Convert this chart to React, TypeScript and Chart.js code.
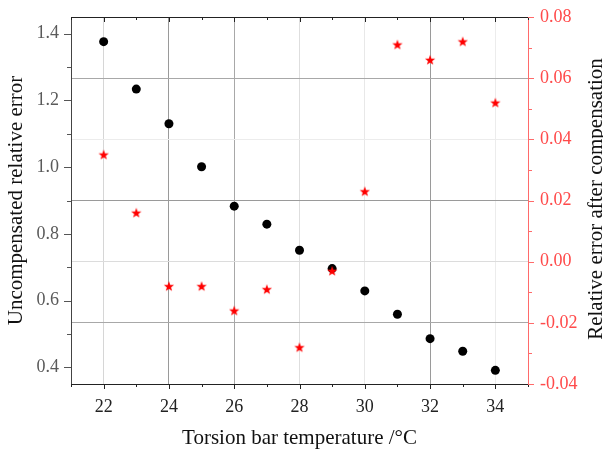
import React, { useEffect, useRef } from 'react';
import { Chart, registerables } from 'chart.js';

Chart.register(...registerables);

const temperatures = [22, 23, 24, 25, 26, 27, 28, 29, 30, 31, 32, 33, 34];
const uncompensatedError = [1.376, 1.234, 1.13, 1.001, 0.883, 0.829, 0.751, 0.696, 0.629, 0.559, 0.486, 0.448, 0.391];
const compensatedError = [0.035, 0.016, -0.008, -0.008, -0.016, -0.009, -0.028, -0.003, 0.023, 0.071, 0.066, 0.072, 0.052];

const xMajorTicks = [22, 24, 26, 28, 30, 32, 34];
const xMinorTicks = [21, 23, 25, 27, 29, 31, 33, 35];
const leftMajorTicks = [0.4, 0.6, 0.8, 1.0, 1.2, 1.4];
const leftMinorTicks = [0.5, 0.7, 0.9, 1.1, 1.3];
const rightMajorTicks = [-0.04, -0.02, 0.0, 0.02, 0.04, 0.06, 0.08];
const rightMinorTicks = [-0.03, -0.01, 0.01, 0.03, 0.05, 0.07];

const xTitle = 'Torsion bar temperature /°C';
const leftTitle = 'Uncompensated relative error';
const rightTitle = 'Relative error after compensation';

const xGridColors = ['#d6d6d6', '#9a9a9a', '#a8a8a8', '#dedede', '#e8e8e8', '#9a9a9a', '#ececec'];
const rightGridColors = ['rgba(0,0,0,0)', '#a8a8a8', '#dcdcdc', '#9a9a9a', '#ececec', '#a8a8a8', 'rgba(0,0,0,0)'];

const SERIF = 'Liberation Serif';

function makeStar(): HTMLCanvasElement {
  const c = document.createElement('canvas');
  const s = 12;
  c.width = s;
  c.height = s;
  const ctx = c.getContext('2d')!;
  const cx = s / 2, cy = s / 2 + 0.5;
  const R = 5.4, r = 2.2;
  ctx.beginPath();
  for (let i = 0; i < 10; i++) {
    const rad = i % 2 === 0 ? R : r;
    const a = -Math.PI / 2 + (i * Math.PI) / 5;
    const x = cx + rad * Math.cos(a);
    const y = cy + rad * Math.sin(a);
    if (i === 0) ctx.moveTo(x, y); else ctx.lineTo(x, y);
  }
  ctx.closePath();
  ctx.fillStyle = '#ff0000';
  ctx.fill();
  return c;
}

const tickPlugin = {
  id: 'tickMarks',
  afterDraw(chart: any) {
    const { ctx, chartArea } = chart;
    const x = chart.scales.x;
    const yL = chart.scales.yL;
    const yR = chart.scales.yR;
    ctx.save();
    ctx.lineWidth = 1;
    // top border
    ctx.strokeStyle = '#222';
    ctx.beginPath();
    ctx.moveTo(chartArea.left, chartArea.top + 0.5);
    ctx.lineTo(chartArea.right, chartArea.top + 0.5);
    ctx.stroke();
    const drawX = (vals: number[], len: number) => {
      vals.forEach((v) => {
        const px = Math.round(x.getPixelForValue(v)) + 0.5;
        ctx.beginPath();
        ctx.moveTo(px, chartArea.bottom);
        ctx.lineTo(px, chartArea.bottom + len);
        ctx.moveTo(px, chartArea.top);
        ctx.lineTo(px, chartArea.top + len);
        ctx.stroke();
      });
    };
    ctx.strokeStyle = '#222';
    drawX(xMajorTicks, 5);
    drawX(xMinorTicks, 3);
    ctx.strokeStyle = '#555';
    const drawL = (vals: number[], len: number) => {
      vals.forEach((v) => {
        const py = Math.round(yL.getPixelForValue(v)) + 0.5;
        ctx.beginPath();
        ctx.moveTo(chartArea.left, py);
        ctx.lineTo(chartArea.left - len, py);
        ctx.stroke();
      });
    };
    drawL(leftMajorTicks, 7);
    drawL(leftMinorTicks, 4);
    ctx.strokeStyle = '#ff6a6a';
    const drawR = (vals: number[], len: number) => {
      vals.forEach((v) => {
        const py = Math.round(yR.getPixelForValue(v)) + 0.5;
        ctx.beginPath();
        ctx.moveTo(chartArea.right, py);
        ctx.lineTo(chartArea.right + len, py);
        ctx.stroke();
      });
    };
    drawR(rightMajorTicks, 6);
    drawR(rightMinorTicks, 4);
    // right axis title, reading bottom to top
    ctx.fillStyle = '#111';
    ctx.font = `21px "${SERIF}"`;
    ctx.textAlign = 'center';
    ctx.textBaseline = 'alphabetic';
    ctx.translate(chart.width - 1.5, (chartArea.top + chartArea.bottom) / 2 - 1.5);
    ctx.rotate(-Math.PI / 2);
    ctx.fillText(rightTitle, 0, 0);
    ctx.restore();
  },
};

export default function App() {
  const ref = useRef<HTMLCanvasElement | null>(null);
  useEffect(() => {
    if (!ref.current) return;
    const star = makeStar();
    const chart = new Chart(ref.current, {
      type: 'scatter',
      data: {
        datasets: [
          {
            label: rightTitle,
            data: temperatures.map((t, i) => ({ x: t, y: compensatedError[i] })),
            yAxisID: 'yR',
            pointStyle: star as any,
            pointRadius: 6,
            backgroundColor: '#ff0000',
            borderColor: '#ff0000',
          },
          {
            label: leftTitle,
            data: temperatures.map((t, i) => ({ x: t, y: uncompensatedError[i] })),
            yAxisID: 'yL',
            pointStyle: 'circle',
            pointRadius: 4.5,
            backgroundColor: '#000000',
            borderColor: '#000000',
            borderWidth: 0,
          },
        ],
      },
      options: {
        animation: false,
        responsive: false,
        maintainAspectRatio: false,
        devicePixelRatio: 1,
        layout: { padding: { top: 17, left: 0, right: 0, bottom: 0 } },
        plugins: { legend: { display: false }, tooltip: { enabled: false } },
        scales: {
          x: {
            type: 'linear',
            position: 'bottom',
            min: 21,
            max: 35,
            afterBuildTicks: (s: any) => {
              s.ticks = xMajorTicks.map((v) => ({ value: v }));
            },
            afterFit: (s: any) => {
              s.height = 65;
              s.paddingLeft = 0;
              s.paddingRight = 0;
            },
            grid: {
              drawTicks: false,
              color: (c: any) => xGridColors[c.index] ?? '#ddd',
            },
            border: { color: '#222', width: 1 },
            ticks: {
              padding: 12,
              color: '#222',
              font: { family: SERIF, size: 18 },
              callback: (v: any) => String(v),
            },
            title: {
              display: true,
              text: xTitle,
              color: '#111',
              font: { family: SERIF, size: 21 },
              padding: { bottom: -2, top: 0 },
            },
          },
          yL: {
            type: 'linear',
            position: 'left',
            min: 0.35,
            max: 1.45,
            afterBuildTicks: (s: any) => {
              s.ticks = leftMajorTicks.map((v) => ({ value: v }));
            },
            afterFit: (s: any) => {
              s.width = 71;
              s.paddingTop = 0;
              s.paddingBottom = 0;
            },
            grid: { display: false, drawTicks: false },
            border: { color: '#444', width: 1 },
            ticks: {
              padding: 12,
              color: '#5a5a5a',
              font: { family: SERIF, size: 18 },
              callback: (v: any) => Number(v).toFixed(1),
            },
            title: {
              display: true,
              text: leftTitle,
              color: '#111',
              font: { family: SERIF, size: 21 },
              padding: { top: 4, bottom: 0 },
            },
          },
          yR: {
            type: 'linear',
            position: 'right',
            min: -0.04,
            max: 0.08,
            afterBuildTicks: (s: any) => {
              s.ticks = rightMajorTicks.map((v) => ({ value: v }));
            },
            afterFit: (s: any) => {
              s.width = 75;
              s.paddingTop = 0;
              s.paddingBottom = 0;
            },
            grid: {
              drawTicks: false,
              color: (c: any) => rightGridColors[c.index] ?? '#ddd',
            },
            border: { color: '#ff6a6a', width: 1 },
            ticks: {
              padding: 12,
              color: '#ff4a4a',
              font: { family: SERIF, size: 18 },
              callback: (v: any) => Number(v).toFixed(2),
            },
          },
        },
      },
      plugins: [tickPlugin],
    });
    return () => chart.destroy();
  }, []);
  return (
    <div style={{ position: 'fixed', left: 0, top: 0, width: 603, height: 449, background: '#fff' }}>
      <canvas ref={ref} width={603} height={449} style={{ width: 603, height: 449, display: 'block' }} />
    </div>
  );
}
